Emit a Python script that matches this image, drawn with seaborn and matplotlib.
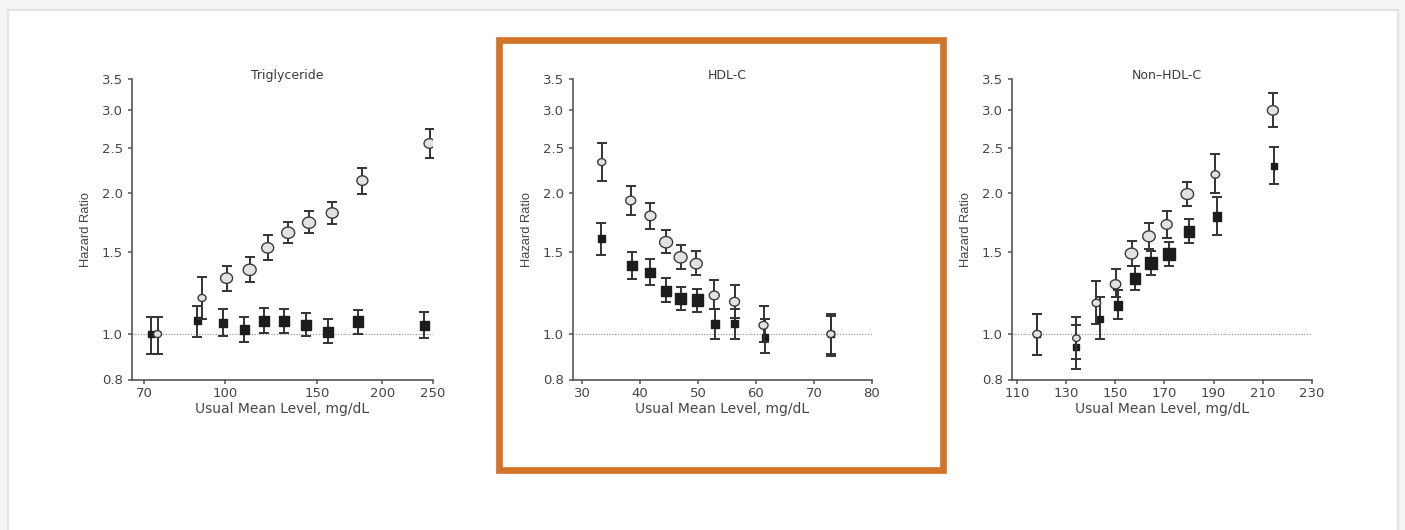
import numpy as np
import matplotlib
matplotlib.use("Agg")
import matplotlib.pyplot as plt
from matplotlib.patches import Rectangle
from matplotlib.path import Path
from matplotlib.ticker import FixedLocator, NullLocator, FormatStrFormatter
import seaborn as sns

# ---------------- data ----------------
panel_titles = ["Triglyceride", "HDL-C", "Non\u2013HDL-C"]
y_ticks = [0.8, 1.0, 1.5, 2.0, 2.5, 3.0, 3.5]
tg_xticks = [70, 100, 150, 200, 250]
hdl_xticks = [30, 40, 50, 60, 70, 80]
nhdl_xticks = [110, 130, 150, 170, 190, 210, 230]

# Triglyceride - adjusted (black squares)
tg_sq_x = [72.1, 88.4, 99.0, 108.8, 118.6, 129.5, 142.9, 157.4, 179.7, 240.5]
tg_sq_hr = [1.00, 1.068, 1.056, 1.023, 1.068, 1.066, 1.045, 1.012, 1.063, 1.045]
tg_sq_lo = [0.906, 0.984, 0.99, 0.963, 1.003, 1.007, 0.99, 0.957, 1.00, 0.98]
tg_sq_hi = [1.089, 1.15, 1.131, 1.085, 1.137, 1.129, 1.109, 1.075, 1.126, 1.115]
tg_sq_w = [6, 7, 8, 9, 10, 10.5, 10, 10, 10.5, 9]
# Triglyceride - unadjusted (grey circles)
tg_ci_x = [74.2, 90.3, 100.6, 111.4, 120.6, 132.0, 144.7, 160.3, 183.1, 246.2]
tg_ci_hr = [1.00, 1.194, 1.316, 1.371, 1.527, 1.645, 1.728, 1.812, 2.125, 2.55]
tg_ci_lo = [0.906, 1.077, 1.234, 1.290, 1.440, 1.563, 1.642, 1.714, 1.99, 2.37]
tg_ci_hi = [1.089, 1.322, 1.40, 1.459, 1.628, 1.734, 1.827, 1.916, 2.26, 2.74]
tg_ci_w = [8, 8, 12, 13, 12, 13, 13, 12, 11, 11]

# HDL-C
hdl_sq_x = [33.3, 38.6, 41.7, 44.5, 47.0, 49.9, 52.9, 56.3, 61.5, 72.9]
hdl_sq_hr = [1.599, 1.401, 1.353, 1.238, 1.191, 1.182, 1.051, 1.054, 0.988, 1.00]
hdl_sq_lo = [1.477, 1.309, 1.273, 1.168, 1.124, 1.115, 0.976, 0.977, 0.910, 0.905]
hdl_sq_hi = [1.729, 1.497, 1.446, 1.316, 1.263, 1.246, 1.132, 1.132, 1.079, 1.095]
hdl_sq_w = [7, 9.5, 9.5, 10, 11.5, 11.5, 7.5, 7.5, 6, 6]
hdl_ci_x = [33.4, 38.4, 41.8, 44.5, 47.0, 49.7, 52.8, 56.3, 61.3, 72.9]
hdl_ci_hr = [2.327, 1.927, 1.787, 1.570, 1.458, 1.413, 1.209, 1.172, 1.044, 1.00]
hdl_ci_lo = [2.118, 1.798, 1.678, 1.489, 1.376, 1.338, 1.132, 1.084, 0.961, 0.90]
hdl_ci_hi = [2.561, 2.073, 1.908, 1.667, 1.549, 1.502, 1.305, 1.273, 1.149, 1.102]
hdl_ci_w = [8, 10, 11, 13, 13, 12, 10, 10, 9, 8]

# Non-HDL-C
nhdl_sq_x = [118.2, 134.2, 143.7, 151.2, 158.0, 164.4, 172.0, 179.9, 191.3, 214.6]
nhdl_sq_hr = [1.00, 0.940, 1.078, 1.152, 1.315, 1.418, 1.483, 1.654, 1.782, 2.283]
nhdl_sq_lo = [0.902, 0.844, 0.975, 1.078, 1.241, 1.338, 1.394, 1.561, 1.624, 2.088]
nhdl_sq_hi = [1.101, 1.046, 1.20, 1.241, 1.394, 1.503, 1.574, 1.759, 1.960, 2.506]
nhdl_sq_w = [6, 6, 6.5, 8.5, 10.5, 12, 12, 10.5, 8.5, 6.5]
nhdl_ci_x = [118.2, 134.2, 142.3, 150.1, 156.6, 163.7, 170.9, 179.3, 190.7, 214.1]
nhdl_ci_hr = [1.00, 0.980, 1.165, 1.277, 1.485, 1.616, 1.713, 1.989, 2.190, 3.00]
nhdl_ci_lo = [0.902, 0.886, 1.051, 1.197, 1.399, 1.520, 1.605, 1.878, 1.995, 2.76]
nhdl_ci_hi = [1.101, 1.087, 1.296, 1.376, 1.582, 1.722, 1.826, 2.113, 2.420, 3.26]
nhdl_ci_w = [8.5, 7.5, 8.5, 10.5, 12.5, 12.5, 11, 12.5, 8.5, 11]

# ---------------- style ----------------
sns.set_theme(style="ticks")
plt.rcParams["font.family"] = ["DejaVu Sans"]

W, H = 1405, 530
fig = plt.figure(figsize=(W / 100, H / 100), dpi=100)
fig.patch.set_facecolor("#f4f4f4")

# white card
fig.add_artist(Rectangle((7.5 / W, -0.01), (1398 - 7.5) / W, (H - 10) / H + 0.01,
                         transform=fig.transFigure, facecolor="white",
                         edgecolor="#e4e4e4", lw=1.5, zorder=0))
# orange highlight box
fig.add_artist(Rectangle((499.4 / W, (H - 469.6) / H), (942.6 - 499.4) / W,
                         (469.6 - 40.4) / H, transform=fig.transFigure,
                         facecolor="none", edgecolor="#D2752B", lw=6.7 * 72 / 100,
                         zorder=1))

# ellipse marker (slightly wider than tall, as in the reference)
t = np.linspace(0, 2 * np.pi, 60)
ell = Path(np.column_stack([1.15 * np.cos(t), np.sin(t)]), closed=True)

PX = 72 / 100.0  # points per pixel


def px2s(w):
    return (np.asarray(w, dtype=float) * PX) ** 2


panels = [
    dict(title=panel_titles[0], box=(132, 433), xlim=(66.3, 250), log=True, xt=tg_xticks,
         sq=(tg_sq_x, tg_sq_hr, tg_sq_lo, tg_sq_hi, tg_sq_w),
         ci=(tg_ci_x, tg_ci_hr, tg_ci_lo, tg_ci_hi, tg_ci_w)),
    dict(title=panel_titles[1], box=(573, 872), xlim=(28.45, 80), log=False, xt=hdl_xticks,
         sq=(hdl_sq_x, hdl_sq_hr, hdl_sq_lo, hdl_sq_hi, hdl_sq_w),
         ci=(hdl_ci_x, hdl_ci_hr, hdl_ci_lo, hdl_ci_hi, hdl_ci_w)),
    dict(title=panel_titles[2], box=(1012, 1312), xlim=(108, 230), log=False, xt=nhdl_xticks,
         sq=(nhdl_sq_x, nhdl_sq_hr, nhdl_sq_lo, nhdl_sq_hi, nhdl_sq_w),
         ci=(nhdl_ci_x, nhdl_ci_hr, nhdl_ci_lo, nhdl_ci_hi, nhdl_ci_w)),
]

top_px, bot_px = 79, 379.5
spine_c = "#555555"
text_c = "#454545"

for p in panels:
    l, r = p["box"]
    ax = fig.add_axes([l / W, 1 - bot_px / H, (r - l) / W, (bot_px - top_px) / H])
    ax.set_facecolor("none")
    ax.set_yscale("log")
    if p["log"]:
        ax.set_xscale("log")
    ax.set_xlim(*p["xlim"])
    ax.set_ylim(0.8, 3.5)

    # reference line
    ax.axhline(1.0, color="#8a8a8a", lw=0.8, ls=(0, (1, 1.5)), zorder=1)

    for key, face, edge, mk, zo in (("sq", "#1c1c1c", "#1c1c1c", "s", 3),
                                    ("ci", "#e2e2e2", "#3a3a3a", ell, 5)):
        x, hr, lo, hi, w = p[key]
        x = np.asarray(x); hr = np.asarray(hr); lo = np.asarray(lo); hi = np.asarray(hi)
        ax.errorbar(x, hr, yerr=[hr - lo, hi - hr], fmt="none", ecolor="#333333",
                    elinewidth=1.4, capsize=3.6, capthick=1.4, zorder=zo - 1)
        sns.scatterplot(x=x, y=hr, ax=ax, marker=mk, s=px2s(w), color=face,
                        edgecolor=edge, linewidth=1.0, zorder=zo, legend=False)

    ax.yaxis.set_major_locator(FixedLocator(y_ticks))
    ax.yaxis.set_minor_locator(NullLocator())
    ax.yaxis.set_major_formatter(FormatStrFormatter("%.1f"))
    ax.xaxis.set_major_locator(FixedLocator(p["xt"]))
    ax.xaxis.set_minor_locator(NullLocator())
    ax.xaxis.set_major_formatter(FormatStrFormatter("%d"))

    for s in ("top", "right"):
        ax.spines[s].set_visible(False)
    for s in ("left", "bottom"):
        ax.spines[s].set_color(spine_c)
        ax.spines[s].set_linewidth(1.2)
    ax.tick_params(axis="both", direction="out", length=3, width=1.1, color=spine_c,
                   labelcolor=text_c, labelsize=9.5)
    ax.tick_params(axis="y", pad=3.5)
    ax.tick_params(axis="x", pad=2.5)

    ax.set_xlabel("Usual Mean Level, mg/dL", fontsize=10, color=text_c, labelpad=1.5)
    ax.set_ylabel("Hazard Ratio", fontsize=9.3, color=text_c, va="center",
                  family=["Liberation Sans", "DejaVu Sans"])
    ax.yaxis.set_label_coords(-46 / (r - l), 0.5)
    ax.text(0.517, 1.013, p["title"], transform=ax.transAxes, ha="center", va="center",
            fontsize=9, color="#3a3a3a")

fig.savefig("out.png", dpi=100, facecolor=fig.get_facecolor())
